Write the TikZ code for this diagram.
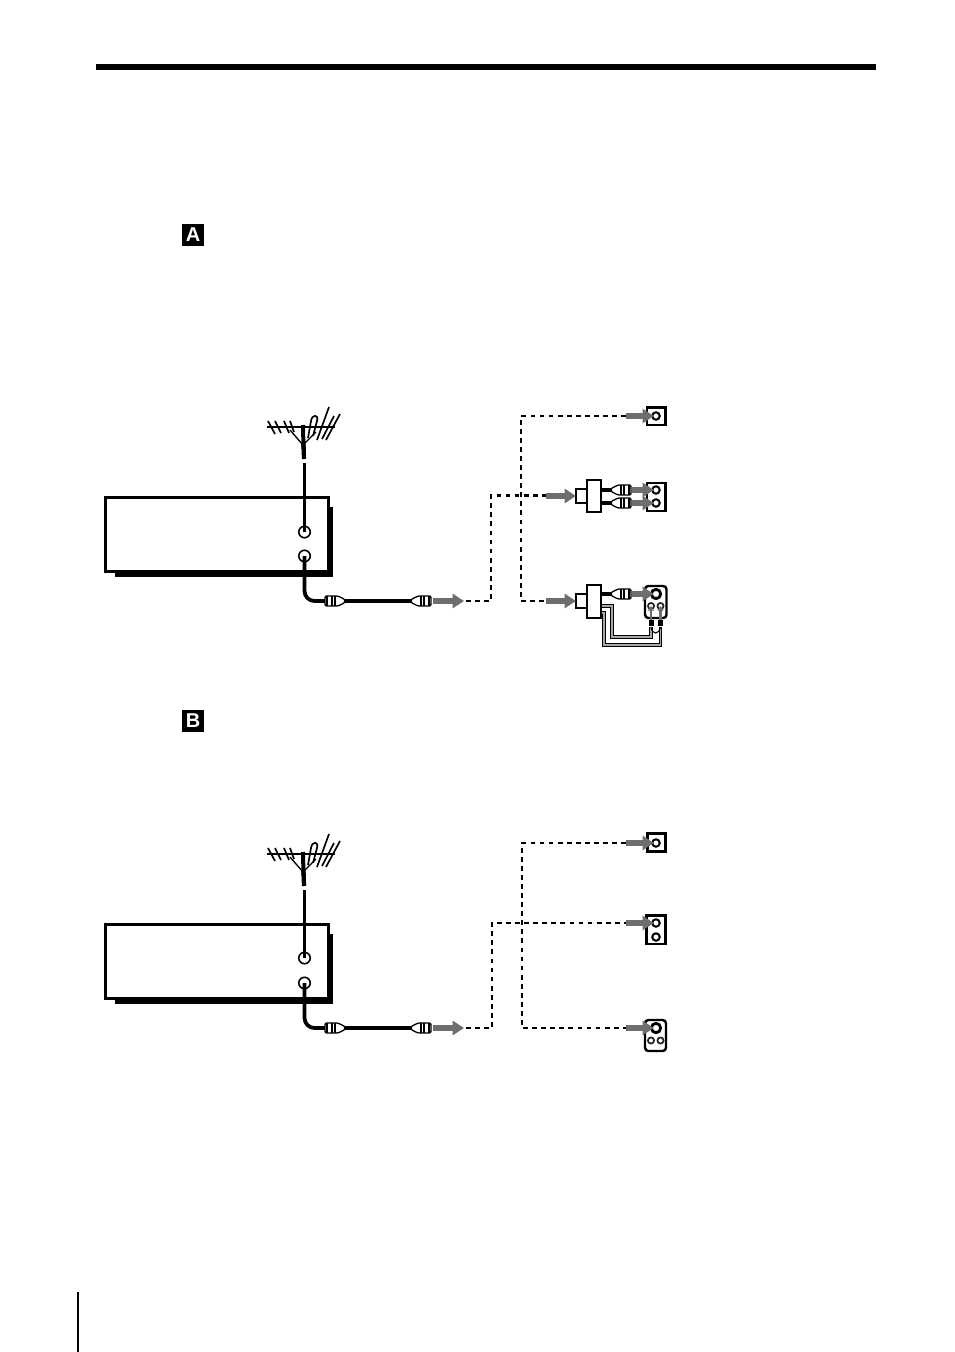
\documentclass[tikz,border=0pt]{standalone}
\usepackage{fontspec}
\setmainfont{Liberation Sans}
\usetikzlibrary{arrows.meta}
\tikzset{
  x=0.75pt,y=-0.75pt,
  every node/.style={inner sep=0pt,outer sep=0pt},
  letterbox/.style={fill=black,text=white,minimum width=16pt,minimum height=16pt,font=\fontsize{15}{15}\selectfont\bfseries},
  unitbox/.style={draw=black,fill=white,line width=2.25pt,minimum width=167pt,minimum height=55.5pt},
  unitshadow/.style={fill=black},
  port/.style={circle,draw=black,fill=white,line width=1.2pt,minimum size=8.6pt},
  wire/.style={line width=2.8pt,line cap=butt,rounded corners=7.5pt},
  dashline/.style={line width=2.2pt,dash pattern=on 3.6pt off 3.2pt},
  greyarrow/.style={draw=arrowgrey,line width=4pt,-{Triangle[length=8.5pt,width=10.5pt]}},
  jackarrow/.style={greyarrow,shorten >=1.6pt},
  smallarrow/.style={draw=arrowgrey,line width=1.6pt,-{Triangle[length=3.5pt,width=4.4pt]}},
  jack/.style={draw=black,fill=white,line width=1.7pt},
  roundjack/.style={draw=black,fill=white,line width=1.8pt,rounded corners=2.5pt},
  ring/.style={circle,draw=black,fill=white,line width=1.5pt,minimum size=5.6pt},
  bigring/.style={circle,draw=black,fill=white,line width=2.1pt,minimum size=7pt},
  smallring/.style={circle,draw=black!85,fill=white,line width=1.3pt,minimum size=4.6pt},
  adapter/.style={draw=black,fill=white,line width=1.2pt},
  twin/.style={draw=black,line width=0.9pt,double=twingrey,double distance=0.9pt},
  pics/plug/.style={code={
    \draw[fill=white,line width=1pt,draw=black,rounded corners=1pt] (0,-1.5) -- (7,-5) -- (20,-5) -- (20,5) -- (7,5) -- (0,1.5) -- cycle;
    \draw[line width=0.8pt] (10,-5) -- (10,5);
    \draw[line width=1pt] (13,-5) -- (13,5);
    \draw[line width=1.1pt] (18,-5) -- (18,5);
  }},
  pics/antenna/.style={code={
    \draw[line width=1.8pt] (-36,0) -- (32,0);
    \foreach \a/\b/\c/\d in {-35/-6/-28/7,-28/-6/-22/6,-19/-6/-14/6,-13/-6/-9/5,26/-20/14/13,37/-13/23/13,31/-11/19/12}
      \draw[line width=1.25pt] (\a,\b) -- (\c,\d);
    \draw[line width=1.25pt] (5,11) -- (8,-6) .. controls (9,-13) and (16,-13) .. (14,-6) -- (10,9);
    \draw[line width=1pt] (0,18) -- (-13,3);
    \draw[line width=1pt] (0,18) -- (13,5);
    \draw[line width=3pt] (0,-2) -- (0.5,22);
    \draw[line width=3.2pt] (0.5,16) -- (1,32);
  }}
}
\definecolor{arrowgrey}{HTML}{6E6E6E}
\definecolor{twingrey}{HTML}{A8A8A8}
\begin{document}
\begin{tikzpicture}
\useasboundingbox (0,0) rectangle (954,1352);
\fill[white] (0,0) rectangle (954,1352);
% page furniture
\fill[black] (96,64) rectangle (876,70);
\fill[black] (77,1292) rectangle (78.5,1352);
\node[letterbox] (letterA) at (193,235) {A};
\node[letterbox] (letterB) at (193,721) {B};

% ---------- A ----------
\fill[unitshadow] (115,507) rectangle (333,577);
\node[unitbox] (unitA) at (217,534.5) {};
\pic at (303,427) {antenna};
\coordinate (antA) at (304.5,463);
\node[port] (inA) at (304.5,532) {};
\node[port] (outA) at (304.5,556) {};
\draw[line width=2.4pt] (antA) -- (inA.center);
\coordinate (bendA) at (304.5,601);
\coordinate (p1A) at (326,601);
\coordinate (p2A) at (344,601);
\coordinate (p3A) at (412,601);
\draw[wire] (outA.center) -- (bendA) -- (p1A);
\draw[line width=2.6pt] (p2A) -- (p3A);
\pic at (345,601) [xscale=-1] {plug};
\pic at (411,601) {plug};
\coordinate (a0s) at (433,601);
\coordinate (a0e) at (464,601);
\draw[greyarrow] (a0s) -- (a0e);

\coordinate (d1) at (466,601);
\coordinate (d2) at (491,601);
\coordinate (d3) at (491,495.5);
\coordinate (d4) at (546,495.5);
\draw[dashline] (d1) -- (d2) -- (d3) -- (d4);
\coordinate (e1) at (626,416);
\coordinate (e2) at (521,416);
\coordinate (e3) at (521,601);
\coordinate (e4) at (546,601);
\draw[dashline] (e1) -- (e2) -- (e3) -- (e4);

% A top jack
\draw[jack] (647,407.5) rectangle (665.5,425) ;
\node[ring] (ja1) at (656,416) {};
\coordinate (ja1s) at (626,416);
\draw[jackarrow] (ja1s) -- (ja1.center);

% A middle adapter and jack
\draw[jack] (647,483) rectangle (665.5,511);
\node[ring] (ja2) at (656,490) {};
\node[ring] (ja3) at (656,503) {};
\draw[adapter] (576,489) rectangle (587,503);
\node[adapter,minimum width=10.5pt,minimum height=24pt] (adA) at (594,496) {};
\coordinate (a2s) at (546,496);
\coordinate (a2e) at (576,496);
\draw[greyarrow] (a2s) -- (a2e);
\coordinate (w1) at (612,490);
\coordinate (w2) at (612,503);
\draw[line width=2.4pt] (adA.east |- w1) -- (w1);
\draw[line width=2.4pt] (adA.east |- w2) -- (w2);
\pic at (611,490) {plug};
\pic at (611,503) {plug};
\coordinate (a3s) at (632,490);
\coordinate (a4s) at (632,503);
\draw[jackarrow] (a3s) -- (ja2.center);
\draw[jackarrow] (a4s) -- (ja3.center);

% A lower adapter and jack
\draw[twin] (601,606) -- (612,606) -- (612,637) -- (651,637) -- (651,627);
\draw[twin] (601,613) -- (604,613) -- (604,645) -- (660.5,645) -- (660.5,627);
\draw[roundjack] (645,586) rectangle (666.5,618);
\node[bigring] (ja4) at (656,594) {};
\node[smallring] (ja5) at (651,606) {};
\node[smallring] (ja6) at (660.5,606) {};
\draw[adapter] (576,594) rectangle (587,608);
\node[adapter,minimum width=10.5pt,minimum height=24.5pt] (adB) at (594,601.5) {};
\coordinate (a5s) at (546,601);
\coordinate (a5e) at (576,601);
\draw[greyarrow] (a5s) -- (a5e);
\coordinate (w3) at (612,594);
\draw[line width=2.4pt] (adB.east |- w3) -- (w3);
\pic at (611,594) {plug};
\coordinate (a6s) at (632,594);
\draw[jackarrow] (a6s) -- (ja4.center);
\fill[black] (648.5,620) rectangle (653.5,626);
\fill[black] (658,620) rectangle (663,626);
\draw[smallarrow] (651,620) -- (ja5.center);
\draw[smallarrow] (660.5,620) -- (ja6.center);
\draw[line width=0.8pt] (651,627) .. controls (652,635) and (659,635) .. (660.5,627);

% ---------- B ----------
\fill[unitshadow] (115,934) rectangle (333,1004);
\node[unitbox] (unitB) at (217,961) {};
\pic at (303,854) {antenna};
\coordinate (antB) at (304.5,890);
\node[port] (inB) at (304.5,958) {};
\node[port] (outB) at (304.5,983) {};
\draw[line width=2.4pt] (antB) -- (inB.center);
\coordinate (bendB) at (304.5,1028);
\coordinate (p1B) at (326,1028);
\coordinate (p2B) at (344,1028);
\coordinate (p3B) at (412,1028);
\draw[wire] (outB.center) -- (bendB) -- (p1B);
\draw[line width=2.6pt] (p2B) -- (p3B);
\pic at (345,1028) [xscale=-1] {plug};
\pic at (411,1028) {plug};
\coordinate (b0s) at (433,1028);
\coordinate (b0e) at (464,1028);
\draw[greyarrow] (b0s) -- (b0e);

\coordinate (f1) at (466,1028);
\coordinate (f2) at (492,1028);
\coordinate (f3) at (492,923);
\coordinate (f4) at (626,923);
\draw[dashline] (f1) -- (f2) -- (f3) -- (f4);
\coordinate (g1) at (626,843);
\coordinate (g2) at (522,843);
\coordinate (g3) at (522,1028);
\coordinate (g4) at (626,1028);
\draw[dashline] (g1) -- (g2) -- (g3) -- (g4);

\draw[jack] (647.5,833.5) rectangle (665.5,851.5);
\node[ring] (jb1) at (656,843) {};
\draw[jackarrow] (g1) -- (jb1.center);
\draw[jack] (646.5,915.5) rectangle (665.5,944);
\node[ring] (jb2) at (656,923) {};
\node[ring] (jb3) at (656,937) {};
\draw[jackarrow] (f4) -- (jb2.center);
\draw[roundjack] (645,1020) rectangle (666,1051);
\node[bigring] (jb4) at (656,1028) {};
\node[smallring] (jb5) at (651,1040.5) {};
\node[smallring] (jb6) at (660.5,1040.5) {};
\draw[jackarrow] (g4) -- (jb4.center);
\end{tikzpicture}
\end{document}
